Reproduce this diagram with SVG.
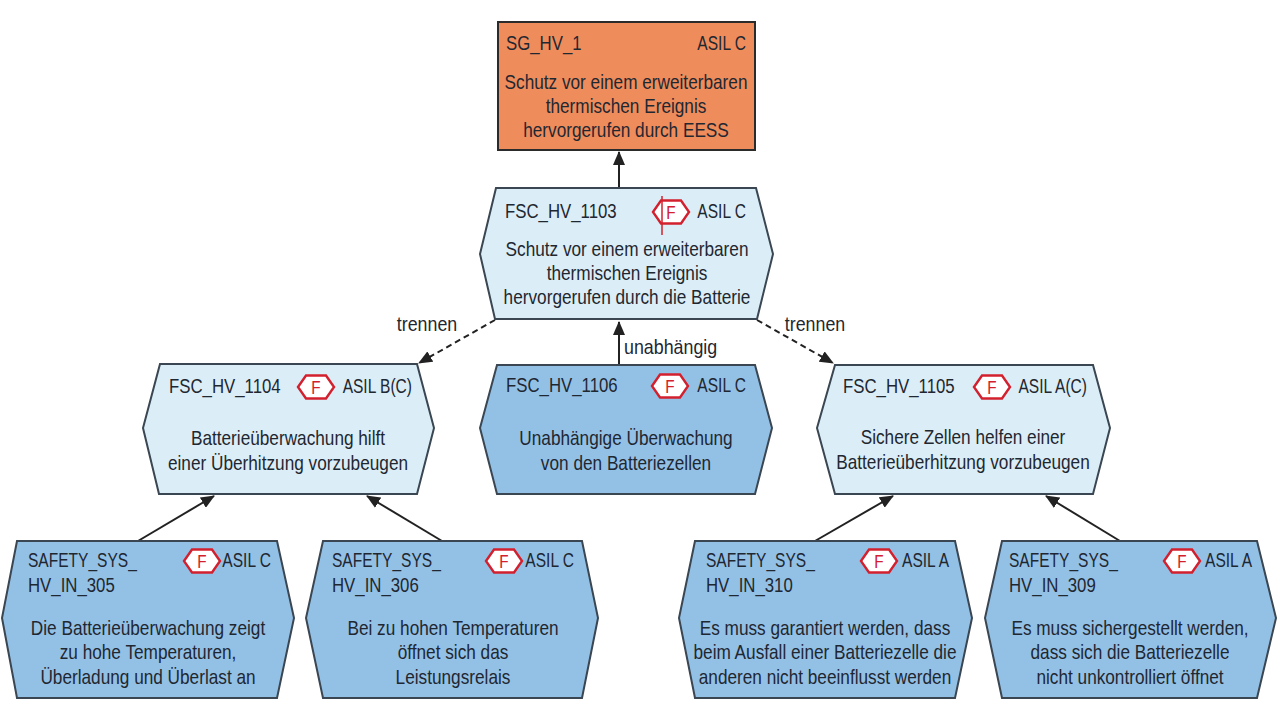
<svg xmlns="http://www.w3.org/2000/svg" width="1280" height="718" viewBox="0 0 1280 718">
<style>
.t{font-family:"Liberation Sans",Arial,sans-serif;font-size:21px;fill:#1f2731}
.s{font-family:"Liberation Sans",Arial,sans-serif;font-size:21px;fill:#1f2731}
.m{text-anchor:middle}
.e{text-anchor:end}
.sg{fill:#ef8c5c;stroke:#2b2b2b;stroke-width:2}
.lt{fill:#dbeef7;stroke:#3a4652;stroke-width:2}
.dk{fill:#93c1e6;stroke:#3a4652;stroke-width:2}
.bd{fill:#fff;stroke:#d3202e;stroke-width:2.4}
.bf{font-family:"Liberation Sans",Arial,sans-serif;font-size:18px;fill:#d3202e;text-anchor:middle}
.c{stroke:#222;stroke-width:2;fill:none}
.d{stroke:#222;stroke-width:2;fill:none;stroke-dasharray:6 4}
</style>
<defs>
<marker id="ah" markerUnits="userSpaceOnUse" markerWidth="14" markerHeight="12" refX="13" refY="6" orient="auto">
<path d="M0,0 L14,6 L0,12 Z" fill="#222"/>
</marker>
<g id="badge"><polygon class="bd" points="-18,0 -10,-11.5 10,-11.5 18,0 10,11.5 -10,11.5"/><text class="bf" transform="translate(0,6.5) scale(0.85,1)">F</text></g>
</defs>

<g id="connectors">
<line class="c" x1="619" y1="188" x2="619" y2="152" marker-end="url(#ah)"/>
<line class="d" x1="495" y1="320" x2="419" y2="363" marker-end="url(#ah)"/>
<line class="d" x1="757" y1="320" x2="833" y2="363" marker-end="url(#ah)"/>
<line class="c" x1="619" y1="365" x2="619" y2="322" marker-end="url(#ah)"/>
<line class="c" x1="138" y1="541" x2="214" y2="496" marker-end="url(#ah)"/>
<line class="c" x1="442" y1="541" x2="367" y2="496" marker-end="url(#ah)"/>
<line class="c" x1="815" y1="541" x2="893" y2="496" marker-end="url(#ah)"/>
<line class="c" x1="1120" y1="541" x2="1046" y2="496" marker-end="url(#ah)"/>
<text class="s m" transform="translate(427,331) scale(0.85,1)">trennen</text>
<text class="s m" transform="translate(815,331) scale(0.85,1)">trennen</text>
<text class="s" transform="translate(624,354) scale(0.85,1)">unabhängig</text>
</g>

<g id="SG_HV_1">
<rect class="sg" x="498" y="22" width="257" height="128"/>
<text class="t" transform="translate(506,50) scale(0.8,1)">SG_HV_1</text>
<text class="t e" transform="translate(746,50) scale(0.74,1)">ASIL C</text>
<text class="t m" transform="translate(626,89) scale(0.82,1)">Schutz vor einem erweiterbaren</text>
<text class="t m" transform="translate(626,113) scale(0.82,1)">thermischen Ereignis</text>
<text class="t m" transform="translate(626,137) scale(0.82,1)">hervorgerufen durch EESS</text>
</g>

<g id="FSC_HV_1103">
<polygon class="lt" points="496,188 756,188 773,254 757,319 495,319 480,254"/>
<text class="t" transform="translate(505,218) scale(0.8,1)">FSC_HV_1103</text>
<use href="#badge" x="671" y="212"/>
<line x1="662" y1="196" x2="662" y2="235" stroke="#d3202e" stroke-width="1.5"/>
<text class="t e" transform="translate(746,218) scale(0.74,1)">ASIL C</text>
<text class="t m" transform="translate(627,256) scale(0.82,1)">Schutz vor einem erweiterbaren</text>
<text class="t m" transform="translate(627,280) scale(0.82,1)">thermischen Ereignis</text>
<text class="t m" transform="translate(627,304) scale(0.82,1)">hervorgerufen durch die Batterie</text>
</g>

<g id="FSC_HV_1104">
<polygon class="lt" points="160,364 417,364 434,428 417,494 159,494 143,428"/>
<text class="t" transform="translate(169,393) scale(0.8,1)">FSC_HV_1104</text>
<use href="#badge" x="316" y="387"/>
<text class="t e" transform="translate(412,393) scale(0.74,1)">ASIL B(C)</text>
<text class="t m" transform="translate(288,445) scale(0.82,1)">Batterieüberwachung hilft</text>
<text class="t m" transform="translate(288,470) scale(0.82,1)">einer Überhitzung vorzubeugen</text>
</g>

<g id="FSC_HV_1106">
<polygon class="dk" points="497,365 755,365 772,428 755,494 497,494 480,428"/>
<text class="t" transform="translate(506,392) scale(0.8,1)">FSC_HV_1106</text>
<use href="#badge" x="670" y="386"/>
<text class="t e" transform="translate(746,392) scale(0.74,1)">ASIL C</text>
<text class="t m" transform="translate(626,445) scale(0.82,1)">Unabhängige Überwachung</text>
<text class="t m" transform="translate(626,470) scale(0.82,1)">von den Batteriezellen</text>
</g>

<g id="FSC_HV_1105">
<polygon class="lt" points="835,365 1093,365 1110,428 1093,494 835,494 817,428"/>
<text class="t" transform="translate(843,393) scale(0.8,1)">FSC_HV_1105</text>
<use href="#badge" x="992" y="387"/>
<text class="t e" transform="translate(1087,393) scale(0.74,1)">ASIL A(C)</text>
<text class="t m" transform="translate(963,444) scale(0.82,1)">Sichere Zellen helfen einer</text>
<text class="t m" transform="translate(963,469) scale(0.82,1)">Batterieüberhitzung vorzubeugen</text>
</g>

<g id="SAFETY_SYS_HV_IN_305">
<polygon class="dk" points="17,541 277,541 294,618 277,698 17,698 2,618"/>
<text class="t" transform="translate(28,567) scale(0.74,1)">SAFETY_SYS_</text>
<text class="t" transform="translate(28,592) scale(0.8,1)">HV_IN_305</text>
<use href="#badge" x="202" y="561"/>
<text class="t e" transform="translate(271,567) scale(0.74,1)">ASIL C</text>
<text class="t m" transform="translate(148,635) scale(0.82,1)">Die Batterieüberwachung zeigt</text>
<text class="t m" transform="translate(148,659) scale(0.82,1)">zu hohe Temperaturen,</text>
<text class="t m" transform="translate(148,684) scale(0.82,1)">Überladung und Überlast an</text>
</g>

<g id="SAFETY_SYS_HV_IN_306">
<polygon class="dk" points="323,541 582,541 598,618 582,698 323,698 306,618"/>
<text class="t" transform="translate(332,567) scale(0.74,1)">SAFETY_SYS_</text>
<text class="t" transform="translate(332,592) scale(0.8,1)">HV_IN_306</text>
<use href="#badge" x="504" y="561"/>
<text class="t e" transform="translate(574,567) scale(0.74,1)">ASIL C</text>
<text class="t m" transform="translate(453,635) scale(0.82,1)">Bei zu hohen Temperaturen</text>
<text class="t m" transform="translate(453,659) scale(0.82,1)">öffnet sich das</text>
<text class="t m" transform="translate(453,684) scale(0.82,1)">Leistungsrelais</text>
</g>

<g id="SAFETY_SYS_HV_IN_310">
<polygon class="dk" points="695,541 955,541 972,618 955,698 695,698 679,618"/>
<text class="t" transform="translate(706,567) scale(0.74,1)">SAFETY_SYS_</text>
<text class="t" transform="translate(706,592) scale(0.8,1)">HV_IN_310</text>
<use href="#badge" x="879" y="561"/>
<text class="t e" transform="translate(949,567) scale(0.74,1)">ASIL A</text>
<text class="t m" transform="translate(825,635) scale(0.82,1)">Es muss garantiert werden, dass</text>
<text class="t m" transform="translate(825,659) scale(0.82,1)">beim Ausfall einer Batteriezelle die</text>
<text class="t m" transform="translate(825,684) scale(0.82,1)">anderen nicht beeinflusst werden</text>
</g>

<g id="SAFETY_SYS_HV_IN_309">
<polygon class="dk" points="1002,541 1257,541 1276,618 1257,698 1002,698 985,618"/>
<text class="t" transform="translate(1009,567) scale(0.74,1)">SAFETY_SYS_</text>
<text class="t" transform="translate(1009,592) scale(0.8,1)">HV_IN_309</text>
<use href="#badge" x="1182" y="561"/>
<text class="t e" transform="translate(1252,567) scale(0.74,1)">ASIL A</text>
<text class="t m" transform="translate(1130,635) scale(0.82,1)">Es muss sichergestellt werden,</text>
<text class="t m" transform="translate(1130,659) scale(0.82,1)">dass sich die Batteriezelle</text>
<text class="t m" transform="translate(1130,684) scale(0.82,1)">nicht unkontrolliert öffnet</text>
</g>
</svg>
